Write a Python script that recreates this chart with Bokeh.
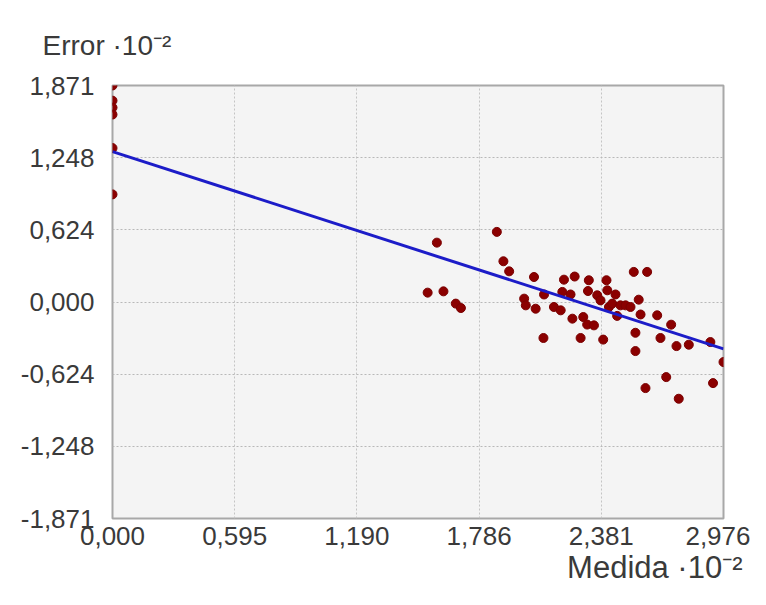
from bokeh.plotting import figure
from bokeh.models import FixedTicker, ColumnDataSource, Range1d, Title
from bokeh.embed import file_html
from bokeh.resources import INLINE

# ---- data (units of 10^-2) ----
medida = [0.0, 0.0, 0.0, 0.0, 0.0, 0.0,
          1.535, 1.580, 1.612, 1.672, 1.697, 1.872, 1.904, 1.932, 2.005, 2.013,
          2.053, 2.061, 2.099, 2.102, 2.150, 2.183, 2.191, 2.199, 2.231, 2.240,
          2.251, 2.280, 2.293, 2.312, 2.316, 2.320, 2.345, 2.361, 2.377, 2.390,
          2.406, 2.410, 2.418, 2.434, 2.450, 2.458, 2.474, 2.499, 2.523, 2.539,
          2.547, 2.547, 2.563, 2.572, 2.596, 2.604, 2.653, 2.669, 2.697, 2.721,
          2.747, 2.758, 2.807, 2.912, 2.925, 2.976]
error = [1.871, 1.74, 1.68, 1.62, 1.33, 0.93,
         0.081, 0.513, 0.092, -0.014, -0.052, 0.606, 0.352, 0.265, 0.029, -0.029,
         0.216, -0.058, -0.311, 0.065, -0.043, -0.072, 0.087, 0.193, 0.065, -0.144,
         0.220, -0.311, -0.130, -0.195, 0.095, 0.188, -0.202, 0.058, 0.014, -0.325,
         0.188, 0.101, -0.043, -0.014, 0.065, -0.120, -0.029, -0.029, -0.043, 0.260,
         -0.266, -0.424, 0.020, -0.108, -0.744, 0.260, -0.115, -0.311, -0.649, -0.196,
         -0.381, -0.836, -0.369, -0.346, -0.701, -0.519]

fit_x = [0.0, 2.976]
fit_y = [1.30, -0.405]

x_ticks = [0.0, 0.5952, 1.1904, 1.7856, 2.3808, 2.976]
x_tick_labels = ["0,000", "0,595", "1,190", "1,786", "2,381", "2,976"]
y_ticks = [-1.871, -1.2473, -0.6237, 0.0, 0.6237, 1.2473, 1.871]
y_tick_labels = ["-1,871", "-1,248", "-0,624", "0,000", "0,624", "1,248", "1,871"]

y_title = "Error ·10⁻²"
x_title = "Medida ·10⁻²"

FONT = "Liberation Sans"
TXT = "#3a3a3a"

p = figure(width=750, height=589, output_backend="svg", toolbar_location=None,
           x_range=Range1d(x_ticks[0], x_ticks[-1]),
           y_range=Range1d(y_ticks[0], y_ticks[-1]),
           min_border_left=112, min_border_right=27,
           min_border_top=85, min_border_bottom=71)

p.background_fill_color = "#f4f4f4"
p.border_fill_color = "white"
p.outline_line_color = "#a8a8a8"
p.outline_line_width = 2

p.xaxis.ticker = FixedTicker(ticks=x_ticks)
p.yaxis.ticker = FixedTicker(ticks=y_ticks)
p.xaxis.major_label_overrides = {t: s for t, s in zip(x_ticks, x_tick_labels)}
p.yaxis.major_label_overrides = {t: s for t, s in zip(y_ticks, y_tick_labels)}

for ax in (p.xaxis, p.yaxis):
    ax.axis_line_color = None
    ax.major_tick_line_color = None
    ax.minor_tick_line_color = None
    ax.major_tick_out = 0
    ax.major_tick_in = 0
    ax.major_label_text_font = FONT
    ax.major_label_text_font_size = "26px"
    ax.major_label_text_color = TXT
p.yaxis.major_label_standoff = 18
p.xaxis.major_label_standoff = 8

p.xgrid.grid_line_color = "#c4c4c4"
p.xgrid.grid_line_dash = "2 2"
p.ygrid.grid_line_color = "#b8b8b8"
p.ygrid.grid_line_dash = "2 2"

src = ColumnDataSource(dict(x=medida, y=error))
p.scatter("x", "y", source=src, marker="circle", size=9,
          fill_color="#8b0000", line_color="#7a0000")
p.line(fit_x, fit_y, line_color="#1c1cc8", line_width=3)

p.add_layout(Title(text=y_title, align="left", offset=-70, standoff=50,
                   text_font=FONT, text_font_size="28px",
                   text_font_style="normal", text_color=TXT), "above")
p.add_layout(Title(text=x_title, align="right", offset=-19, standoff=0,
                   text_font=FONT, text_font_size="31px",
                   text_font_style="normal", text_color=TXT), "below")

open("out.html", "w").write(file_html(p, INLINE))
